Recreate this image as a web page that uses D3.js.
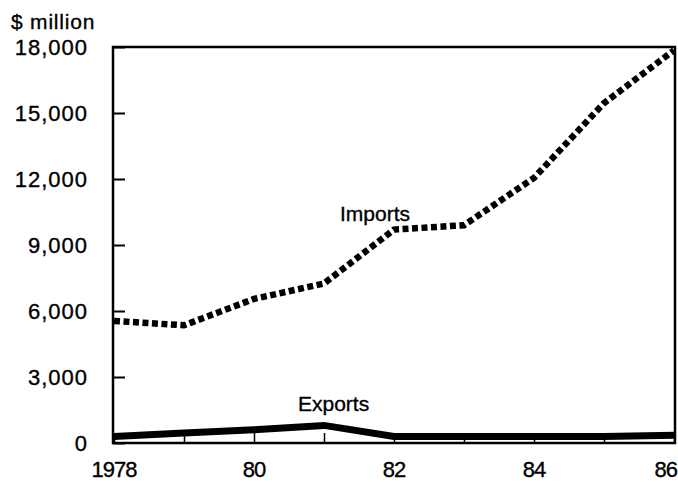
<!DOCTYPE html>
<html>
<head>
<meta charset="utf-8">
<script src="https://cdn.jsdelivr.net/npm/d3@7"></script>
<style>
  body { margin: 0; background: #fff; }
  text { font-family: "Liberation Sans", Arial, sans-serif; fill: #000; stroke: #000; stroke-width: 0.35px; }
</style>
</head>
<body>
<div id="chart"></div>
<script>
const years = [1978, 1979, 1980, 1981, 1982, 1983, 1984, 1985, 1986];
const imports = [5550, 5350, 6550, 7250, 9700, 9900, 12050, 15450, 17850];
const exports = [300, 450, 600, 800, 300, 300, 300, 300, 350];
const yTicks = [0, 3000, 6000, 9000, 12000, 15000, 18000];
const xTickLabels = {1978: "1978", 1980: "80", 1982: "82", 1984: "84", 1986: "86"};

const width = 678;
const height = 482;
const margin = { top: 47, right: 3, bottom: 39, left: 114 };

const svg = d3.select("#chart")
    .append("svg")
    .attr("width", width)
    .attr("height", height);

const xScale = d3.scaleLinear()
    .domain([1978, 1986])
    .range([margin.left, width - margin.right - 1]);

const yScale = d3.scaleLinear()
    .domain([0, 18000])
    .range([height - margin.bottom, margin.top]);

// Frame
svg.append("rect")
    .attr("x", margin.left - 1)
    .attr("y", margin.top)
    .attr("width", width - margin.right - margin.left + 1)
    .attr("height", height - margin.bottom - margin.top)
    .attr("fill", "none")
    .attr("stroke", "#000")
    .attr("stroke-width", 2.5);

// Y axis ticks (inward)
svg.append("g")
    .attr("transform", `translate(${margin.left - 1},0)`)
    .call(d3.axisRight(yScale).tickValues(yTicks).tickSize(12).tickFormat(""))
    .call(g => g.select(".domain").remove())
    .call(g => g.selectAll("line").attr("stroke-width", 2));

svg.selectAll(".y-label")
    .data(yTicks)
    .enter()
    .append("text")
    .attr("class", "y-label")
    .attr("x", 88)
    .attr("y", d => yScale(d) + 8)
    .attr("text-anchor", "end")
    .style("font-size", "22px")
    .style("letter-spacing", "1px")
    .text(d => d3.format(",")(d));

// X axis ticks (inward)
svg.append("g")
    .attr("transform", `translate(0,${height - margin.bottom})`)
    .call(d3.axisTop(xScale).tickValues(years).tickSize(10).tickFormat(""))
    .call(g => g.select(".domain").remove())
    .call(g => g.selectAll("line").attr("stroke-width", 1.5));

svg.selectAll(".x-label")
    .data(years.filter(y => xTickLabels[y]))
    .enter()
    .append("text")
    .attr("class", "x-label")
    .attr("x", d => d === 1986 ? 677 : xScale(d))
    .attr("y", 477)
    .attr("text-anchor", d => d === 1986 ? "end" : "middle")
    .style("font-size", "22px")
    .style("letter-spacing", "-1px")
    .text(d => xTickLabels[d]);

// Unit label
svg.append("text")
    .attr("x", 11)
    .attr("y", 29)
    .style("font-size", "21px")
    .style("letter-spacing", "0.8px")
    .text("$  million");

const line = d3.line()
    .x((d, i) => xScale(years[i]))
    .y(d => yScale(d));

// Imports - dotted
svg.append("path")
    .datum(imports)
    .attr("d", line)
    .attr("fill", "none")
    .attr("stroke", "#000")
    .attr("stroke-width", 6.5)
    .attr("stroke-dasharray", "6,3.5");

// Exports - thick solid
svg.append("path")
    .datum(exports)
    .attr("d", line)
    .attr("fill", "none")
    .attr("stroke", "#000")
    .attr("stroke-width", 7);

svg.append("text")
    .attr("x", 340)
    .attr("y", 221)
    .style("font-size", "21px")
    .text("Imports");

svg.append("text")
    .attr("x", 298)
    .attr("y", 411)
    .style("font-size", "21px")
    .text("Exports");
</script>
</body>
</html>
